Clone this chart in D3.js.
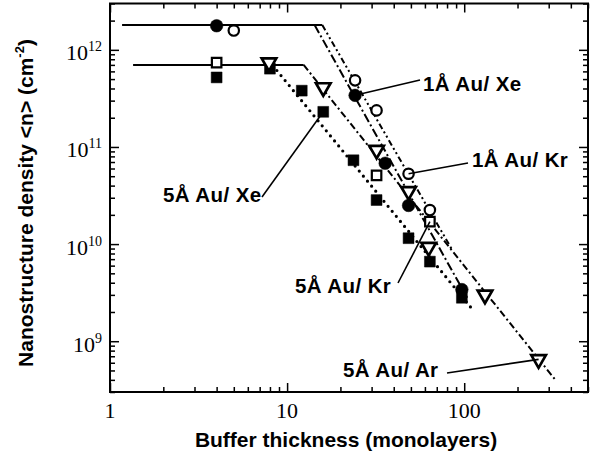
<!DOCTYPE html>
<html><head><meta charset="utf-8">
<script src="https://cdn.jsdelivr.net/npm/d3@7"></script>
<style>body{margin:0;background:#fff}svg{display:block}</style>
</head><body>
<svg id="c" width="595" height="457"></svg>
<script>
// ---- data (thickness in monolayers, density in cm^-2) ----
const xeAu1 = [[4,1.77e12],[24.2,3.4e11],[35.8,6.8e10],[48.5,2.5e10],[97,3.4e9]];            // filled circles
const krAu1 = [[5,1.58e12],[24.2,4.85e11],[32,2.38e11],[48.5,5.3e10],[64,2.24e10]];          // open circles
const xeAu5 = [[4,5.2e11],[8,6.4e11],[12.1,3.8e11],[16,2.3e11],[23.7,7.3e10],[32,2.84e10],[48.5,1.15e10],[64,6.6e9],[97,2.8e9]]; // filled squares
const krAu5 = [[4,7.4e11],[32,5.1e10],[64,1.7e10]];                                           // open squares
const arAu5 = [[7.9,7.4e11],[16,4.1e11],[32,9.3e10],[48.5,3.5e10],[63,9.3e9],[131,3.0e9],[263,6.5e8]]; // open down triangles

const plateauHigh = [[1.17,1.8e12],[15.8,1.8e12]];
const plateauLow  = [[1.35,7e11],[12.4,7e11]];
const fitXe1 = [[14.3,1.8e12],[104,2.8e9]];
const fitKr1 = [[15.8,1.8e12],[85,8.9e9]];
const fitXe5 = [[8.3,6.9e11],[112,2.1e9]];
const fitAr5 = [[12.4,7e11],[327,4.0e8]];

const xTickLabels = [1,10,100];
const yTickExps = [9,10,11,12];
const labelTexts = ["1Å Au/ Xe","1Å Au/ Kr","5Å Au/ Xe","5Å Au/ Kr","5Å Au/ Ar"];
const xTitle = "Buffer thickness (monolayers)";
const yTitle = "Nanostructure density <n> (cm";

// ---- scales ----
const svg = d3.select("#c");
const L=110,R=588,T=3.5,B=392;
const x = d3.scaleLog().domain([1,500]).range([L,R]);
const y = d3.scaleLog().domain([3e8,3e12]).range([B,T]);

const isMajor = v => Math.abs(Math.log10(v) - Math.round(Math.log10(v))) < 1e-9;

// ticks via axes (inward)
function addAxis(axisFn, scale, tr, sign){
  const g = svg.append("g").attr("transform", tr);
  const ax = axisFn(scale).tickValues(scale.ticks()).tickFormat("").tickSizeOuter(0);
  g.call(ax);
  g.select(".domain").remove();
  g.selectAll(".tick line").attr("stroke","#000").attr("stroke-width",1.5)
    .each(function(d){
      const len = isMajor(d) ? 9 : 5;
      const sel = d3.select(this);
      if (sel.attr("x2") !== null && +sel.attr("x2") !== 0) sel.attr("x2", sign*len);
      else sel.attr("y2", sign*len);
    });
}
addAxis(d3.axisBottom, x, `translate(0,${B})`, -1);
addAxis(d3.axisTop, x, `translate(0,${T})`, 1);
addAxis(d3.axisLeft, y, `translate(${L},0)`, 1);
addAxis(d3.axisRight, y, `translate(${R},0)`, -1);

svg.append("rect").attr("x",L).attr("y",T).attr("width",R-L).attr("height",B-T)
  .attr("fill","none").attr("stroke","#000").attr("stroke-width",2);

// tick labels
const serif = "'Liberation Serif','Times New Roman',serif";
svg.append("g").selectAll("text").data(xTickLabels).join("text")
  .attr("x", d=>x(d)).attr("y", 418).attr("text-anchor","middle")
  .attr("font-family",serif).attr("font-size",22).text(d=>d);
const yl = svg.append("g").selectAll("text").data(yTickExps).join("text")
  .attr("x", 102).attr("y", d=>y(Math.pow(10,d))+10.5).attr("text-anchor","end")
  .attr("font-family",serif).attr("font-size",22);
yl.append("tspan").text("10");
yl.append("tspan").attr("font-size",14).attr("dy",-9).text(d=>d);

// titles
const sans = "'Liberation Sans',Arial,Helvetica,sans-serif";
svg.append("text").attr("x",346).attr("y",447).attr("text-anchor","middle")
  .attr("font-family",sans).attr("font-weight","bold").attr("font-size",21).text(xTitle);
const yt = svg.append("text").attr("transform","translate(33,203) rotate(-90)")
  .attr("text-anchor","middle").attr("font-family",sans).attr("font-weight","bold").attr("font-size",21);
yt.append("tspan").text(yTitle);
yt.append("tspan").attr("font-size",13).attr("dy",-9).text("-2");
yt.append("tspan").attr("dy",9).text(")");

// lines
const line = d3.line().x(d=>x(d[0])).y(d=>y(d[1]));
const lines = [
  {d:plateauHigh, dash:null},
  {d:plateauLow, dash:null},
  {d:fitXe1, dash:"9,3,2,3"},
  {d:fitKr1, dash:"6,3,2,3,2,3"},
  {d:fitAr5, dash:"7,3,2,3"},
];
svg.append("g").selectAll("path").data(lines).join("path")
  .attr("d", d=>line(d.d)).attr("fill","none").attr("stroke","#000")
  .attr("stroke-width",2).attr("stroke-dasharray", d=>d.dash);
svg.append("path").attr("d", line(fitXe5)).attr("fill","none").attr("stroke","#000")
  .attr("stroke-width",3.2).attr("stroke-linecap","round").attr("stroke-dasharray","0,6.5");

// markers
function pts(data, type, size, filled, rot, sw){
  svg.append("g").selectAll("path").data(data).join("path")
    .attr("d", d3.symbol().type(type).size(size))
    .attr("transform", d=>`translate(${x(d[0])},${y(d[1])})${rot?" rotate(180)":""}`)
    .attr("fill", filled ? "#000" : "#fff")
    .attr("stroke","#000").attr("stroke-width", filled ? 0.5 : sw);
}
pts(xeAu5, d3.symbolSquare, 118, true);
pts(krAu5, d3.symbolSquare, 90, false, false, 2.2);
pts(xeAu1, d3.symbolCircle, 125, true);
pts(krAu1, d3.symbolCircle, 85, false, false, 2.2);
pts(arAu5, d3.symbolTriangle, 92, false, true, 2.7);

// annotations: label position + anchor data point
const ann = [
  {t:labelTexts[0], tx:423, ty:90.5, lx:420, ly:80, p:xeAu1[1]},
  {t:labelTexts[1], tx:472, ty:166.5, lx:468, ly:163, p:krAu1[3]},
  {t:labelTexts[2], tx:163, ty:201.5, lx:262, ly:197, p:xeAu5[3]},
  {t:labelTexts[3], tx:295, ty:292.5, lx:398, ly:283, p:krAu5[2]},
  {t:labelTexts[4], tx:343, ty:376.5, lx:447, ly:373, p:arAu5[6]},
];
svg.append("g").selectAll("line").data(ann).join("line")
  .attr("x1",d=>d.lx).attr("y1",d=>d.ly).attr("x2",d=>x(d.p[0])).attr("y2",d=>y(d.p[1]))
  .attr("stroke","#000").attr("stroke-width",1.6);
svg.append("g").selectAll("text").data(ann).join("text")
  .attr("x",d=>d.tx).attr("y",d=>d.ty).attr("font-family",sans).attr("font-weight","bold")
  .attr("font-size",20.5).attr("letter-spacing",0.4).text(d=>d.t);
</script>
</body></html>
